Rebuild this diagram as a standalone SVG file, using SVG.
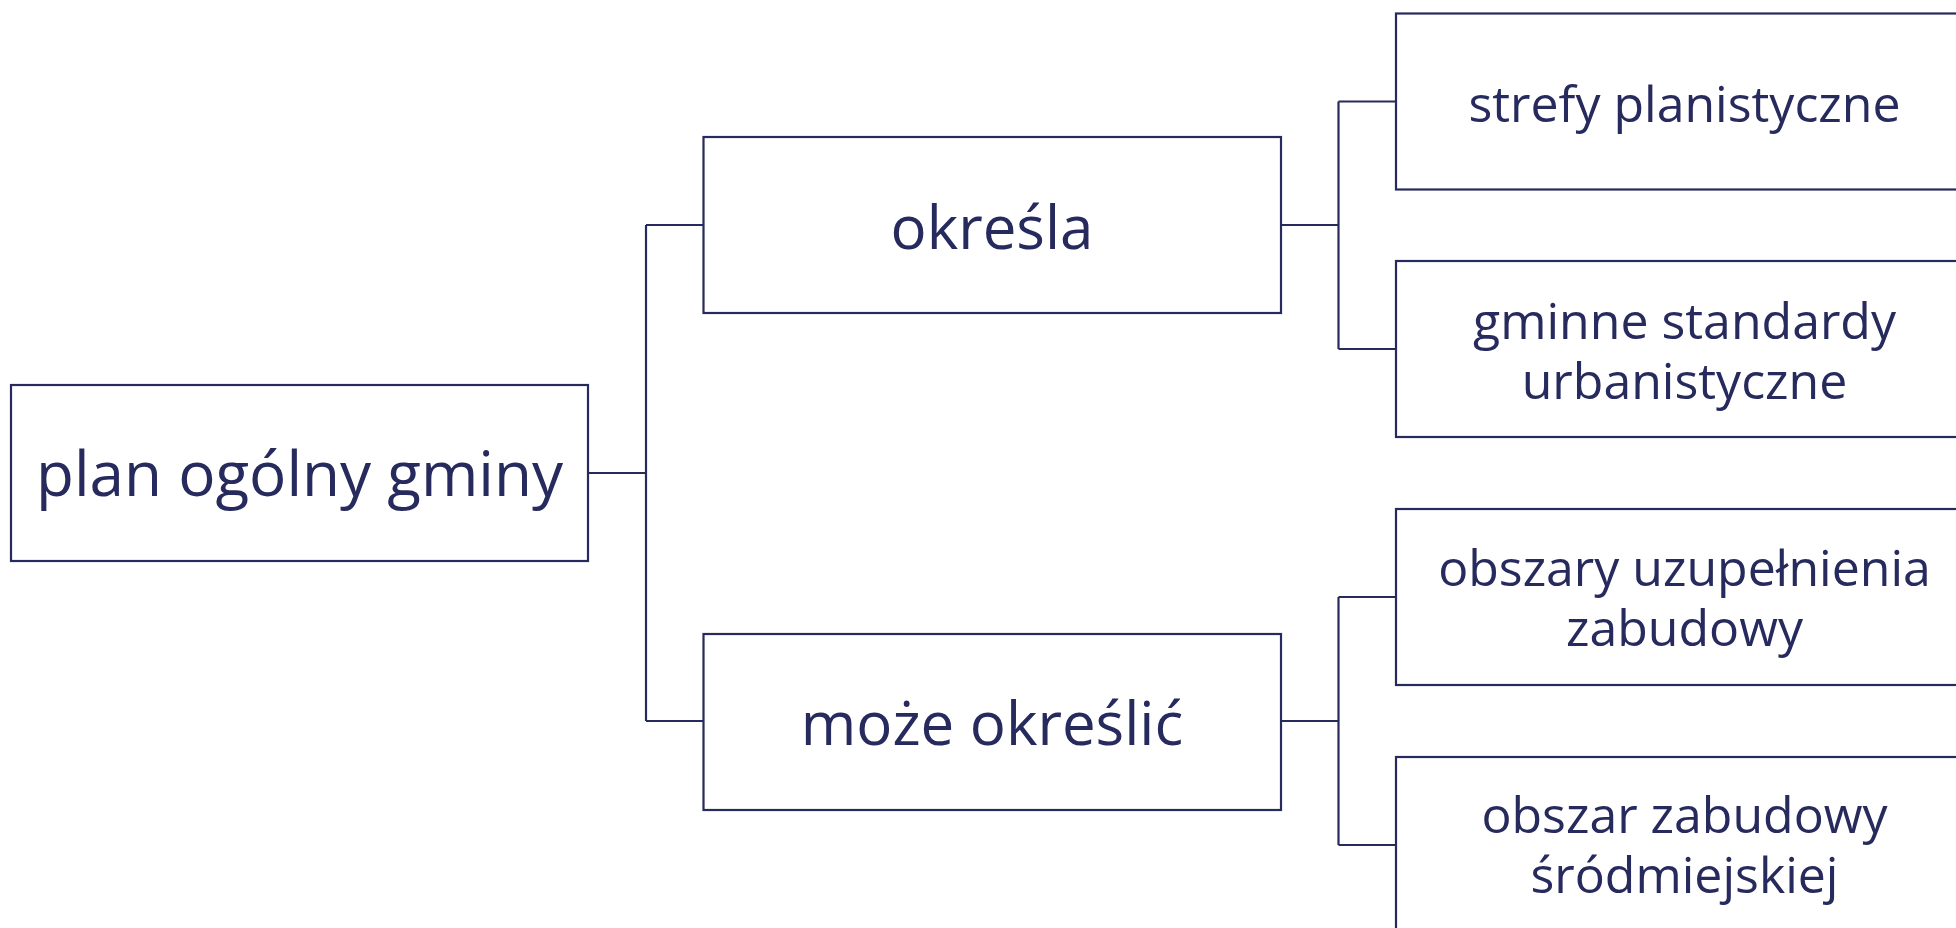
<svg xmlns="http://www.w3.org/2000/svg" width="1956" height="928" viewBox="0 0 1956 928">
<style>
.box{fill:#ffffff;stroke:#272a5d;stroke-width:2.2}
.con{fill:none;stroke:#272a5d;stroke-width:2.2}
.big{font-family:"Open Sans","Noto Sans",sans-serif;font-size:60px;fill:#272a5d;text-anchor:middle}
.root{font-size:62px}
.sm{font-family:"Open Sans","Noto Sans",sans-serif;font-size:50px;fill:#272a5d;text-anchor:middle}
</style>
<rect width="1956" height="928" fill="#ffffff"/>
<g id="connectors">
<path class="con" d="M588,473 H646 M646,225 V721 M646,225 H703.5 M646,721 H703.5"/>
<path class="con" d="M1281,225 H1338.5 M1338.5,101.5 V349 M1338.5,101.5 H1396 M1338.5,349 H1396"/>
<path class="con" d="M1281,721 H1338.5 M1338.5,597 V845 M1338.5,597 H1396 M1338.5,845 H1396"/>
</g>
<g id="root">
<rect class="box" x="11" y="385" width="577" height="176"/>
<text class="big root" x="299.5" y="496">plan ogólny gminy</text>
</g>
<g id="okresla">
<rect class="box" x="703.5" y="137" width="577.5" height="176"/>
<text class="big" x="992" y="249">określa</text>
</g>
<g id="moze-okreslic">
<rect class="box" x="703.5" y="634" width="577.5" height="176"/>
<text class="big" x="992" y="745">może określić</text>
</g>
<g id="strefy">
<rect class="box" x="1396" y="13.5" width="577" height="176"/>
<text class="sm" x="1684.5" y="122">strefy planistyczne</text>
</g>
<g id="standardy">
<rect class="box" x="1396" y="261" width="577" height="176"/>
<text class="sm" x="1684.5" y="339">gminne standardy</text>
<text class="sm" x="1684.5" y="399">urbanistyczne</text>
</g>
<g id="uzupelnienia">
<rect class="box" x="1396" y="509" width="577" height="176"/>
<text class="sm" x="1684.5" y="586">obszary uzupełnienia</text>
<text class="sm" x="1684.5" y="646">zabudowy</text>
</g>
<g id="srodmiejskiej">
<rect class="box" x="1396" y="757" width="577" height="176"/>
<text class="sm" x="1684.5" y="833">obszar zabudowy</text>
<text class="sm" x="1684.5" y="893">śródmiejskiej</text>
</g>
</svg>
